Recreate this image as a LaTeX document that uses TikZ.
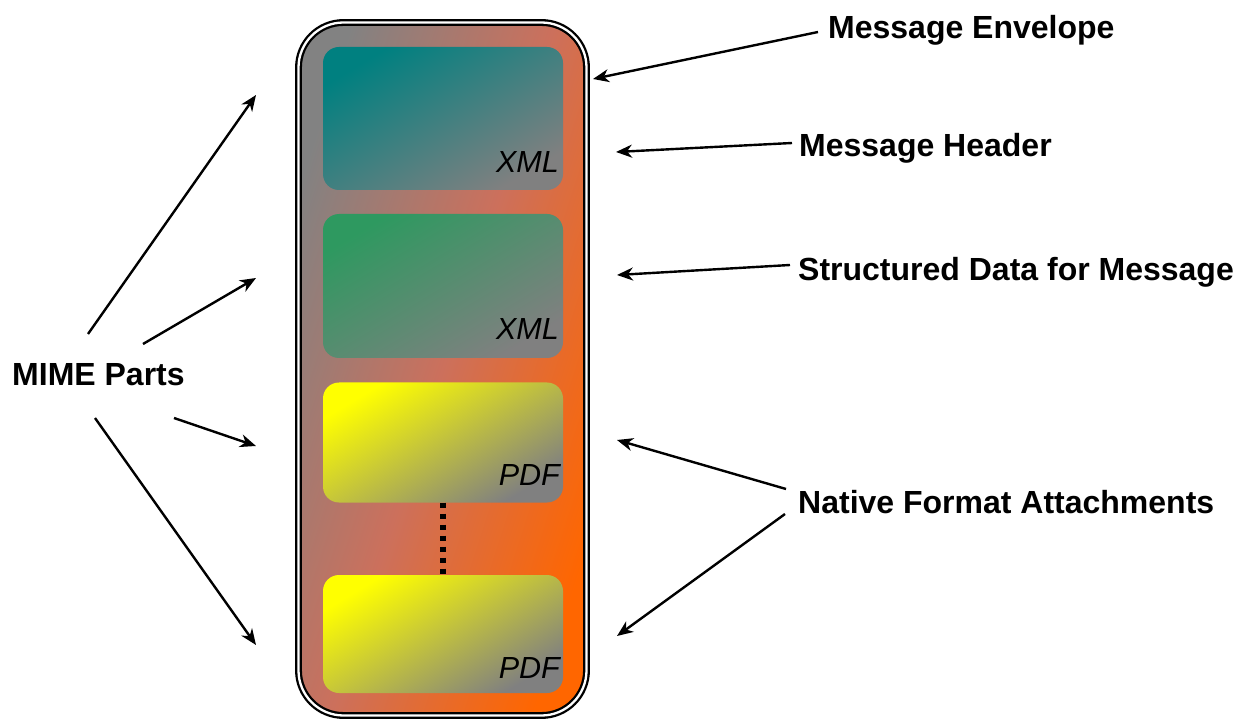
\documentclass[tikz,border=0pt]{standalone}
\usepackage{fontspec}
\setmainfont{Liberation Sans}
\usetikzlibrary{arrows.meta}
\definecolor{envgray}{RGB}{130,130,130}
\definecolor{envmid}{RGB}{204,112,92}
\definecolor{envorange}{RGB}{255,102,0}
\definecolor{midgray}{RGB}{128,128,128}
\definecolor{tealc}{RGB}{0,128,128}
\definecolor{seac}{RGB}{46,153,96}
\definecolor{yel}{RGB}{255,255,0}
\begin{document}
\begin{tikzpicture}[x=1pt,y=-1pt,
  lbl/.style={font=\fontsize{32}{36}\selectfont\bfseries, inner sep=0pt, anchor=base west},
  tag/.style={font=\fontsize{30.5}{34}\selectfont\itshape, inner sep=0pt, anchor=base east},
  part/.style={rounded corners=16pt, minimum width=240pt, inner sep=0pt},
  envbox/.style={draw=black, double=white, double distance=2.3pt, line width=2.3pt,
    rounded corners=45pt, minimum width=288pt, minimum height=693pt, inner sep=0pt,
    left color=envgray, right color=envorange, middle color=envmid, shading angle=72},
  arr/.style={-{Stealth[length=16pt,width=13pt,inset=5pt]}, line width=2.4pt},
  dots/.style={line width=5.5pt, dash pattern=on 5pt off 6pt},
]
\useasboundingbox (0,0) rectangle (1235,719);
% envelope
\node[envbox] (env) at (442.5,369) {};
% parts
\node[part, left color=tealc, right color=midgray, shading angle=31, minimum height=143pt] (b1) at (443,118.5) {};
\node[part, left color=seac, right color=midgray, shading angle=31, minimum height=144pt] (b2) at (443,286) {};
\node[part, left color=yel, right color=midgray, shading angle=31, minimum height=120pt] (b3) at (443,442.5) {};
\node[part, left color=yel, right color=midgray, shading angle=31, minimum height=118pt] (b4) at (443,634) {};
\draw[dots] (b3.south) -- (b4.north);
% tags
\node[tag] (t1) at (559,173) {XML};
\node[tag] (t2) at (559,340) {XML};
\node[tag] (t3) at (560,485) {PDF};
\node[tag] (t4) at (560,678) {PDF};
% labels
\node[lbl] (lenv) at (828,39) {Message Envelope};
\node[lbl] (lhdr) at (799,157) {Message Header};
\node[lbl] (lstr) at (798,281) {Structured Data for Message};
\node[lbl] (lnat) at (798,513) {Native Format Attachments};
\node[lbl] (lmime) at (12,386) {MIME Parts};
% connector ends
\coordinate (envS) at (818,32);  \coordinate (envT) at (593,79);
\coordinate (hdrS) at (792,143); \coordinate (hdrT) at (616,152);
\coordinate (strS) at (790,265); \coordinate (strT) at (617,275);
\coordinate (natSa) at (786,489); \coordinate (natTa) at (617,440);
\coordinate (natSb) at (785,514); \coordinate (natTb) at (617,636);
\coordinate (mimSa) at (88,334);  \coordinate (mimTa) at (256,95);
\coordinate (mimSb) at (143,344); \coordinate (mimTb) at (256,278);
\coordinate (mimSc) at (174,418); \coordinate (mimTc) at (256,446);
\coordinate (mimSd) at (95,418);  \coordinate (mimTd) at (256,645);
\draw[arr] (envS) -- (envT);
\draw[arr] (hdrS) -- (hdrT);
\draw[arr] (strS) -- (strT);
\draw[arr] (natSa) -- (natTa);
\draw[arr] (natSb) -- (natTb);
\draw[arr] (mimSa) -- (mimTa);
\draw[arr] (mimSb) -- (mimTb);
\draw[arr] (mimSc) -- (mimTc);
\draw[arr] (mimSd) -- (mimTd);
\end{tikzpicture}
\end{document}
